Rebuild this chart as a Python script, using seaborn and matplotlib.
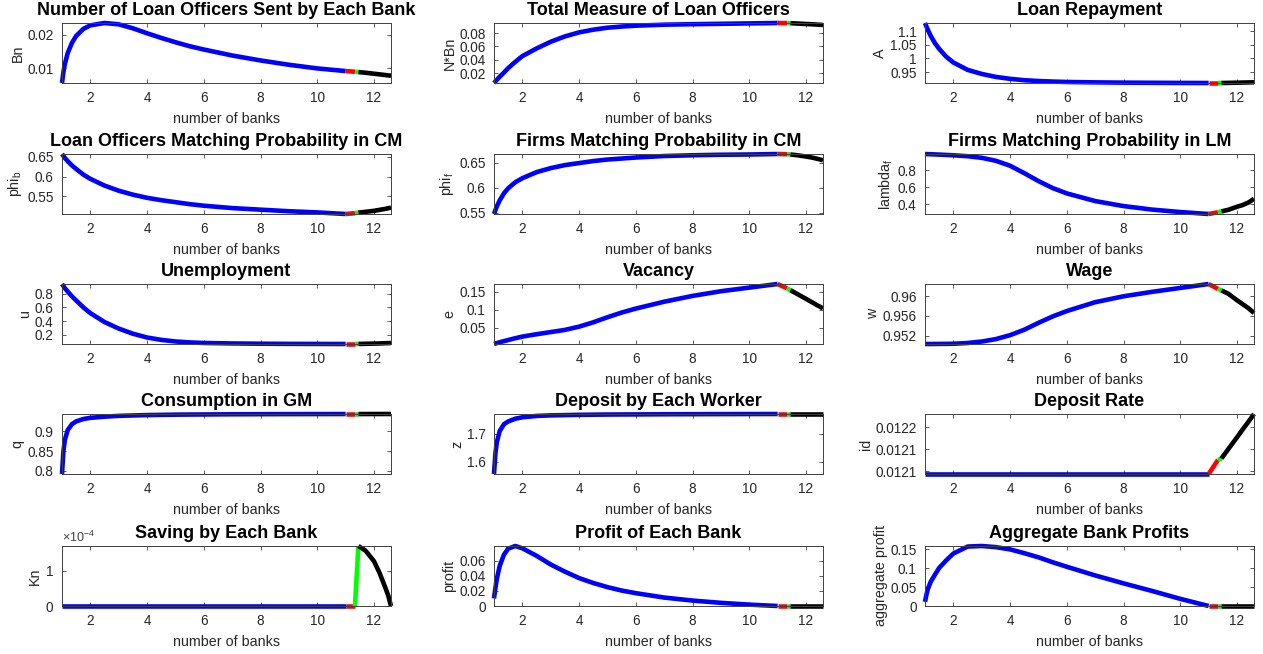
import matplotlib
matplotlib.use("Agg")
import matplotlib.pyplot as plt
import seaborn as sns
from matplotlib.ticker import FixedLocator, FuncFormatter, ScalarFormatter

# ---------------------------------------------------------------------------
# Number of banks: the four regimes of the equilibrium path
# ---------------------------------------------------------------------------
n_blue = [1, 1.05, 1.1, 1.2, 1.35, 1.5, 1.75, 2, 2.5, 3, 3.5, 4, 4.5, 5, 5.5,
          6, 7, 8, 9, 10, 11]
n_red = [11, 11.33]
n_green = [11.33, 11.45]
n_black = [11.45, 11.7, 12.0, 12.2, 12.4, 12.5, 12.6]

# Loan officers sent by each bank
bn_blue = [0.0055, 0.0088, 0.0112, 0.0145, 0.0176, 0.0197, 0.0218, 0.0229, 0.0236,
           0.0232, 0.0220, 0.0205, 0.0191, 0.0178, 0.0166, 0.0156, 0.0138, 0.0123,
           0.0110, 0.0099, 0.0091]
bn_red = [0.0091, 0.0089]
bn_green = [0.0089, 0.0088]
bn_black = [0.0088, 0.0086, 0.0083, 0.0081, 0.0079, 0.0078, 0.0077]

# Total measure of loan officers
nbn_blue = [0.0055, 0.0078, 0.0102, 0.0148, 0.021, 0.0277, 0.037, 0.0456, 0.057,
            0.067, 0.075, 0.081, 0.085, 0.088, 0.0897, 0.091, 0.0925, 0.0932,
            0.0938, 0.0944, 0.0950]
nbn_red = [0.0950, 0.0948]
nbn_green = [0.0948, 0.0947]
nbn_black = [0.0947, 0.0942, 0.0935, 0.0931, 0.0926, 0.0923, 0.0920]

# Loan repayment
a_blue = [1.13, 1.117, 1.105, 1.083, 1.056, 1.035, 1.006, 0.985, 0.958, 0.943,
          0.932, 0.925, 0.920, 0.917, 0.915, 0.9135, 0.912, 0.911, 0.9105, 0.910,
          0.9097]
a_red = [0.9097, 0.9097]
a_green = [0.9097, 0.9098]
a_black = [0.9098, 0.9102, 0.9108, 0.9113, 0.9118, 0.9121, 0.9124]

# Loan officers matching probability in CM
phib_blue = [0.657, 0.652, 0.647, 0.639, 0.628, 0.619, 0.605, 0.594, 0.577, 0.564,
             0.554, 0.546, 0.540, 0.535, 0.530, 0.526, 0.520, 0.516, 0.512, 0.509,
             0.505]
phib_red = [0.505, 0.507]
phib_green = [0.507, 0.5085]
phib_black = [0.5085, 0.5105, 0.513, 0.5155, 0.518, 0.5195, 0.521]

# Firms matching probability in CM
phif_blue = [0.548, 0.556, 0.563, 0.575, 0.589, 0.599, 0.611, 0.619, 0.631, 0.639,
             0.645, 0.649, 0.653, 0.656, 0.658, 0.660, 0.663, 0.6645, 0.6655,
             0.666, 0.667]
phif_red = [0.667, 0.6665]
phif_green = [0.6665, 0.666]
phif_black = [0.666, 0.6645, 0.662, 0.660, 0.6575, 0.656, 0.6545]

# Firms matching probability in LM
lamf_blue = [0.99, 0.989, 0.988, 0.987, 0.985, 0.983, 0.979, 0.975, 0.964, 0.945,
             0.91, 0.852, 0.765, 0.672, 0.59, 0.527, 0.437, 0.378, 0.337, 0.308,
             0.285]
lamf_red = [0.285, 0.305]
lamf_green = [0.305, 0.315]
lamf_black = [0.315, 0.335, 0.37, 0.39, 0.42, 0.44, 0.465]

# Unemployment
u_blue = [0.94, 0.91, 0.88, 0.83, 0.76, 0.70, 0.60, 0.515, 0.385, 0.29, 0.215,
          0.16, 0.125, 0.102, 0.088, 0.08, 0.073, 0.069, 0.067, 0.066, 0.065]
u_red = [0.065, 0.065]
u_green = [0.065, 0.066]
u_black = [0.066, 0.068, 0.071, 0.073, 0.076, 0.078, 0.08]

# Vacancy
e_blue = [0.005, 0.0062, 0.0075, 0.0098, 0.013, 0.016, 0.021, 0.0255, 0.032, 0.038,
          0.044, 0.053, 0.065, 0.079, 0.092, 0.103, 0.122, 0.138, 0.151, 0.161,
          0.171]
e_red = [0.171, 0.159]
e_green = [0.159, 0.154]
e_black = [0.154, 0.143, 0.130, 0.121, 0.112, 0.108, 0.103]

# Wage
w_blue = [0.9503, 0.9503, 0.9503, 0.9503, 0.95031, 0.95032, 0.95033, 0.95035,
          0.9505, 0.9508, 0.9513, 0.9521, 0.9532, 0.9546, 0.9559, 0.9570, 0.9588,
          0.9600, 0.9609, 0.9617, 0.9625]
w_red = [0.9625, 0.9615]
w_green = [0.9615, 0.9612]
w_black = [0.9612, 0.9605, 0.9592, 0.9584, 0.9576, 0.9571, 0.9566]

# Consumption in GM
q_blue = [0.792, 0.85, 0.878, 0.903, 0.918, 0.925, 0.931, 0.934, 0.937, 0.939,
          0.940, 0.941, 0.9415, 0.942, 0.9423, 0.9425, 0.943, 0.9432, 0.9434,
          0.9435, 0.9436]
q_red = [0.9436, 0.9436]
q_green = [0.9436, 0.9436]
q_black = [0.9436, 0.9436, 0.9437, 0.9437, 0.9437, 0.9437, 0.9437]

# Deposit by each worker
z_blue = [1.555, 1.63, 1.67, 1.71, 1.735, 1.745, 1.755, 1.76, 1.765, 1.767, 1.768,
          1.769, 1.7695, 1.770, 1.7703, 1.7705, 1.771, 1.7713, 1.7716, 1.7718,
          1.772]
z_red = [1.772, 1.772]
z_green = [1.772, 1.772]
z_black = [1.772, 1.772, 1.772, 1.772, 1.772, 1.772, 1.772]

# Deposit rate
id_blue = [0.012084] * 21
id_red = [0.012084, 0.012116]
id_green = [0.012116, 0.012119]
id_black = [0.012119, 0.012141, 0.012167, 0.012185, 0.012202, 0.012211, 0.01222]

# Saving by each bank
kn_blue = [0.0] * 21
kn_red = [0.0, 0.0]
kn_green = [0.0, 1.7e-4]
kn_black = [1.7e-4, 1.57e-4, 1.27e-4, 0.93e-4, 0.52e-4, 0.30e-4, 0.0]

# Profit of each bank
pr_blue = [0.010, 0.024, 0.036, 0.053, 0.068, 0.076, 0.0795, 0.0765, 0.0665, 0.055,
           0.0455, 0.037, 0.0305, 0.025, 0.0205, 0.017, 0.0112, 0.0072, 0.0042,
           0.0018, 0.0]
pr_red = [0.0, 0.0]
pr_green = [0.0, 0.0]
pr_black = [0.0] * 7

# Aggregate bank profits
ag_blue = [0.011, 0.03, 0.045, 0.064, 0.083, 0.101, 0.121, 0.139, 0.1575, 0.159,
           0.156, 0.150, 0.140, 0.129, 0.116, 0.104, 0.081, 0.060, 0.040, 0.019,
           0.0]
ag_red = [0.0, 0.0]
ag_green = [0.0, 0.0]
ag_black = [0.0] * 7

x_ticks = [2, 4, 6, 8, 10, 12]

panels = [
    ("Number of Loan Officers Sent by Each Bank", "Bn",
     (bn_blue, bn_red, bn_green, bn_black), [0.01, 0.02], "g"),
    ("Total Measure of Loan Officers", "N*Bn",
     (nbn_blue, nbn_red, nbn_green, nbn_black), [0.02, 0.04, 0.06, 0.08], "g"),
    ("Loan Repayment", "A",
     (a_blue, a_red, a_green, a_black), [0.95, 1.0, 1.05, 1.1], "g"),
    ("Loan Officers Matching Probability in CM", "phi$_b$",
     (phib_blue, phib_red, phib_green, phib_black), [0.55, 0.6, 0.65], "g"),
    ("Firms Matching Probability in CM", "phi$_f$",
     (phif_blue, phif_red, phif_green, phif_black), [0.55, 0.6, 0.65], "g"),
    ("Firms Matching Probability in LM", "lambda$_f$",
     (lamf_blue, lamf_red, lamf_green, lamf_black), [0.4, 0.6, 0.8], "g"),
    ("Unemployment", "u",
     (u_blue, u_red, u_green, u_black), [0.2, 0.4, 0.6, 0.8], "g"),
    ("Vacancy", "e",
     (e_blue, e_red, e_green, e_black), [0.05, 0.1, 0.15], "g"),
    ("Wage", "w",
     (w_blue, w_red, w_green, w_black), [0.952, 0.956, 0.96], "g"),
    ("Consumption in GM", "q",
     (q_blue, q_red, q_green, q_black), [0.8, 0.85, 0.9], "g"),
    ("Deposit by Each Worker", "z",
     (z_blue, z_red, z_green, z_black), [1.6, 1.7], "g"),
    ("Deposit Rate", "id",
     (id_blue, id_red, id_green, id_black), [0.01209, 0.01214, 0.01219], "4f"),
    ("Saving by Each Bank", "Kn",
     (kn_blue, kn_red, kn_green, kn_black), [0.0, 1e-4], "sci"),
    ("Profit of Each Bank", "profit",
     (pr_blue, pr_red, pr_green, pr_black), [0, 0.02, 0.04, 0.06], "g"),
    ("Aggregate Bank Profits", "aggregate profit",
     (ag_blue, ag_red, ag_green, ag_black), [0, 0.05, 0.1, 0.15], "g"),
]

sns.set_style("ticks")
plt.rcParams.update({
    "font.family": ["Liberation Sans", "DejaVu Sans"],
    "mathtext.default": "regular",
    "axes.edgecolor": "#404040",
    "axes.linewidth": 0.7,
    "xtick.direction": "in",
    "ytick.direction": "in",
    "xtick.top": True,
    "ytick.right": True,
    "xtick.major.size": 3,
    "ytick.major.size": 3,
    "xtick.major.width": 0.6,
    "ytick.major.width": 0.6,
    "xtick.color": "#404040",
    "ytick.color": "#404040",
    "xtick.labelcolor": "#262626",
    "ytick.labelcolor": "#262626",
    "xtick.labelsize": 9.8,
    "ytick.labelsize": 9.8,
    "axes.labelsize": 10.3,
    "axes.labelcolor": "#262626",
    "lines.solid_capstyle": "butt",
})

W, H = 1263, 654
fig = plt.figure(figsize=(W / 100, H / 100), dpi=100)

col_left = [62, 494, 925]
row_top = [23, 154, 284, 414, 546]
ax_w, ax_h = 329, 60

colors = ["#0000ff", "#ff0000", "#00ff00", "#000000"]
x_segments = [n_blue, n_red, n_green, n_black]

for i, (title, ylab, series, yticks, fmt) in enumerate(panels):
    r, c = divmod(i, 3)
    rect = [col_left[c] / W, 1 - (row_top[r] + ax_h) / H, ax_w / W, ax_h / H]
    ax = fig.add_axes(rect)
    for xs, ys, col in zip(x_segments, series, colors):
        sns.lineplot(x=xs, y=ys, ax=ax, color=col, linewidth=3.3,
                     estimator=None, sort=False, clip_on=False)
    all_y = [v for s in series for v in s]
    ax.set_xlim(n_blue[0], n_black[-1])
    ax.set_ylim(min(all_y), max(all_y))
    ax.xaxis.set_major_locator(FixedLocator(x_ticks))
    ax.xaxis.set_major_formatter(FuncFormatter(lambda v, p: f"{v:g}"))
    ax.yaxis.set_major_locator(FixedLocator(yticks))
    if fmt == "g":
        ax.yaxis.set_major_formatter(FuncFormatter(lambda v, p: f"{v:.6g}"))
    elif fmt == "4f":
        ax.yaxis.set_major_formatter(FuncFormatter(lambda v, p: f"{v:.4f}"))
    else:
        sf = ScalarFormatter(useMathText=True)
        sf.set_powerlimits((0, 0))
        ax.yaxis.set_major_formatter(sf)
        ax.yaxis.get_offset_text().set_fontsize(9)
        ax.yaxis.get_offset_text().set_color("#404040")
    ax.tick_params(axis="x", pad=6)
    ax.tick_params(axis="y", pad=6)
    ax.set_xlabel("number of banks", labelpad=4.5)
    ax.set_ylabel(ylab, labelpad=2)
    ax.set_title(title, fontsize=13, fontweight="bold", pad=5.5, color="black")
    for sp in ax.spines.values():
        sp.set_visible(True)

fig.savefig("out.png", dpi=100)
